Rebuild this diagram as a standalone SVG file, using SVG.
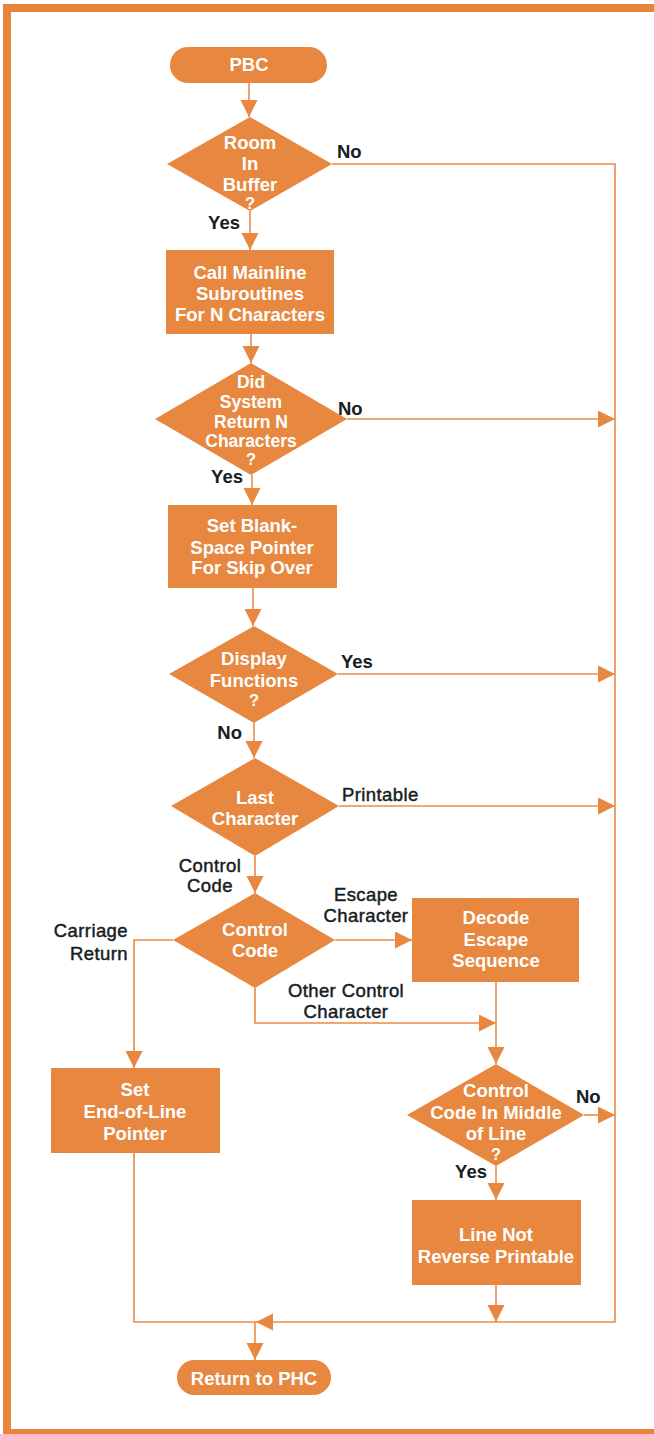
<svg xmlns="http://www.w3.org/2000/svg" width="654" height="1434" viewBox="0 0 654 1434">
<style>
.shape{fill:#E8873F}
.t{fill:#ffffff;font-family:"Liberation Sans",Arial,sans-serif;font-weight:bold;font-size:18.5px;text-anchor:middle}
.s{font-size:17.5px}
.q{font-size:16.5px}
.lb{fill:#15201f;font-family:"Liberation Sans",Arial,sans-serif;font-size:18.5px}
.lr{fill:#15201f;stroke:#15201f;stroke-width:0.45;font-family:"Liberation Sans",Arial,sans-serif;font-size:18.5px;letter-spacing:0.4px}
.yn{font-weight:bold}
.c{fill:none;stroke:#EC8A48;stroke-width:1.6}
</style>
<defs>
<marker id="ah" markerUnits="userSpaceOnUse" markerWidth="18" markerHeight="18" refX="17" refY="8.5" orient="auto" viewBox="0 0 18 18">
<path d="M0,0 L17,8.5 L0,17 Z" fill="#E8873F"/>
</marker>
</defs>
<rect width="654" height="1434" fill="#ffffff"/>
<g id="border" fill="#E8853C">
<rect x="3" y="4" width="651" height="8"/>
<rect x="3" y="4" width="8" height="1430"/>
<rect x="3" y="1429" width="651" height="5"/>
</g>
<g id="connectors">
<path class="c" d="M249,83 V117" marker-end="url(#ah)"/>
<path class="c" d="M250,211 V250" marker-end="url(#ah)"/>
<path class="c" d="M251,334 V363" marker-end="url(#ah)"/>
<path class="c" d="M252,475 V505" marker-end="url(#ah)"/>
<path class="c" d="M253,588 V626" marker-end="url(#ah)"/>
<path class="c" d="M254,723 V758" marker-end="url(#ah)"/>
<path class="c" d="M255,856 V893" marker-end="url(#ah)"/>
<path class="c" d="M332,164 H615 V1322 H256" marker-end="url(#ah)"/>
<path class="c" d="M347,419 H615" marker-end="url(#ah)"/>
<path class="c" d="M338,674 H615" marker-end="url(#ah)"/>
<path class="c" d="M339,806 H615" marker-end="url(#ah)"/>
<path class="c" d="M335,940 H412" marker-end="url(#ah)"/>
<path class="c" d="M173,940 H134 V1068" marker-end="url(#ah)"/>
<path class="c" d="M255,988 V1023 H496" marker-end="url(#ah)"/>
<path class="c" d="M496,982 V1064" marker-end="url(#ah)"/>
<path class="c" d="M584,1115 H615" marker-end="url(#ah)"/>
<path class="c" d="M496,1166 V1200" marker-end="url(#ah)"/>
<path class="c" d="M496,1285 V1322" marker-end="url(#ah)"/>
<path class="c" d="M134,1153 V1322 H256"/>
<path class="c" d="M255,1322 V1360" marker-end="url(#ah)"/>
</g>
<g id="pbc">
<rect class="shape" x="170" y="47" width="157" height="36" rx="18"/>
<text class="t" x="249" y="70.5">PBC</text>
</g>
<g id="room-in-buffer">
<polygon class="shape" points="250,117 332,164 250,211 167,164"/>
<text class="t" x="250" y="148.5">Room</text>
<text class="t" x="250" y="169.5">In</text>
<text class="t" x="250" y="190.5">Buffer</text>
<text class="t q" x="250" y="208.5">?</text>
</g>
<g id="call-mainline">
<rect class="shape" x="166" y="250" width="168" height="84"/>
<text class="t" x="250" y="278.5">Call Mainline</text>
<text class="t" x="250" y="299.5">Subroutines</text>
<text class="t" x="250" y="320.5">For N Characters</text>
</g>
<g id="did-system-return">
<polygon class="shape" points="251,363 347,419 251,475 155,419"/>
<text class="t s" x="251" y="387.5">Did</text>
<text class="t s" x="251" y="407.5">System</text>
<text class="t s" x="251" y="427.5">Return N</text>
<text class="t s" x="251" y="447">Characters</text>
<text class="t q" x="251" y="465">?</text>
</g>
<g id="set-blank-space">
<rect class="shape" x="168" y="505" width="169" height="83"/>
<text class="t" x="252" y="531.5">Set Blank-</text>
<text class="t" x="252" y="553.5">Space Pointer</text>
<text class="t" x="252" y="573.5">For Skip Over</text>
</g>
<g id="display-functions">
<polygon class="shape" points="254,626 338,674 254,723 169,674"/>
<text class="t" x="254" y="664.5">Display</text>
<text class="t" x="254" y="686.5">Functions</text>
<text class="t q" x="254" y="705.5">?</text>
</g>
<g id="last-character">
<polygon class="shape" points="255,758 339,806 255,856 171,806"/>
<text class="t" x="255" y="803.5">Last</text>
<text class="t" x="255" y="824.5">Character</text>
</g>
<g id="control-code">
<polygon class="shape" points="255,893 335,940 255,988 173,940"/>
<text class="t" x="255" y="935.5">Control</text>
<text class="t" x="255" y="956.5">Code</text>
</g>
<g id="decode-escape">
<rect class="shape" x="412" y="898" width="167" height="84"/>
<text class="t" x="496" y="923.5">Decode</text>
<text class="t" x="496" y="945.5">Escape</text>
<text class="t" x="496" y="966.5">Sequence</text>
</g>
<g id="control-code-middle">
<polygon class="shape" points="496,1064 584,1115 496,1166 407,1115"/>
<text class="t" x="496" y="1097">Control</text>
<text class="t" x="496" y="1118.5">Code In Middle</text>
<text class="t" x="496" y="1140">of Line</text>
<text class="t q" x="496" y="1159.5">?</text>
</g>
<g id="set-end-of-line">
<rect class="shape" x="51" y="1068" width="169" height="85"/>
<text class="t" x="135" y="1095.5">Set</text>
<text class="t" x="135" y="1117.5">End-of-Line</text>
<text class="t" x="135" y="1139.5">Pointer</text>
</g>
<g id="line-not-reverse">
<rect class="shape" x="412" y="1200" width="169" height="85"/>
<text class="t" x="496" y="1240.5">Line Not</text>
<text class="t" x="496" y="1262.5">Reverse Printable</text>
</g>
<g id="return-to-phc">
<rect class="shape" x="177" y="1360" width="154" height="35" rx="17.5"/>
<text class="t" x="254" y="1384.5">Return to PHC</text>
</g>
<g id="labels">
<text class="lb yn" x="337" y="158">No</text>
<text class="lb yn" x="240" y="229" text-anchor="end">Yes</text>
<text class="lb yn" x="338" y="415">No</text>
<text class="lb yn" x="243" y="483" text-anchor="end">Yes</text>
<text class="lb yn" x="341" y="668">Yes</text>
<text class="lb yn" x="242" y="739" text-anchor="end">No</text>
<text class="lr" x="342" y="801">Printable</text>
<text class="lr" x="210" y="871.5" text-anchor="middle">Control</text>
<text class="lr" x="210" y="891.5" text-anchor="middle">Code</text>
<text class="lr" x="366" y="901" text-anchor="middle">Escape</text>
<text class="lr" x="366" y="922" text-anchor="middle">Character</text>
<text class="lr" x="128" y="937" text-anchor="end">Carriage</text>
<text class="lr" x="128" y="960" text-anchor="end">Return</text>
<text class="lr" x="346" y="997" text-anchor="middle">Other Control</text>
<text class="lr" x="346" y="1018" text-anchor="middle">Character</text>
<text class="lb yn" x="576" y="1103">No</text>
<text class="lb yn" x="487" y="1178" text-anchor="end">Yes</text>
</g>
</svg>
